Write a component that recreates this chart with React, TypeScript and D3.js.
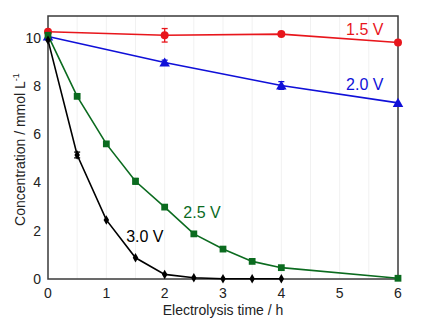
import React, { useEffect, useRef } from "react";
import * as d3 from "d3";

// electrolysis time (h) and concentration (mmol/L) for each cell voltage
const times15 = [0, 2, 4, 6];
const conc15 = [10.25, 10.1, 10.15, 9.8];
const err15 = [0, 0.28, 0.05, 0.05];

const times20 = [0, 2, 4, 6];
const conc20 = [10.05, 8.97, 8.02, 7.3];
const err20 = [0, 0.1, 0.16, 0.05];

const times25 = [0, 0.5, 1, 1.5, 2, 2.5, 3, 3.5, 4, 6];
const conc25 = [10.1, 7.57, 5.6, 4.05, 2.98, 1.87, 1.24, 0.73, 0.47, 0.03];
const err25 = [0, 0, 0.05, 0.12, 0.05, 0, 0, 0, 0, 0];

const times30 = [0, 0.5, 1, 1.5, 2, 2.5, 3, 3.5, 4];
const conc30 = [9.9, 5.14, 2.45, 0.88, 0.19, 0.05, 0.01, 0.01, 0.01];
const err30 = [0, 0.12, 0, 0, 0, 0, 0, 0, 0];

const xTicks = [0, 1, 2, 3, 4, 5, 6];
const yTicks = [0, 2, 4, 6, 8, 10];

type Series = {
  name: string;
  t: number[];
  c: number[];
  e: number[];
  color: string;
  marker: "circle" | "triangle" | "square" | "diamond";
  labelAt: [number, number];
};

const series: Series[] = [
  { name: "1.5 V", t: times15, c: conc15, e: err15, color: "#e8161c", marker: "circle", labelAt: [5.11, 10.1] },
  { name: "2.0 V", t: times20, c: conc20, e: err20, color: "#1010d8", marker: "triangle", labelAt: [5.11, 7.83] },
  { name: "2.5 V", t: times25, c: conc25, e: err25, color: "#0b6b1f", marker: "square", labelAt: [2.32, 2.53] },
  { name: "3.0 V", t: times30, c: conc30, e: err30, color: "#000000", marker: "diamond", labelAt: [1.34, 1.53] },
];

const W = 426;
const H = 327;
const margin = { top: 16, right: 28, bottom: 48, left: 48 };
const font = "Arial, 'Liberation Sans', sans-serif";

export default function App() {
  const ref = useRef<SVGSVGElement>(null);

  useEffect(() => {
    const svg = d3.select(ref.current);
    svg.selectAll("*").remove();

    const x = d3.scaleLinear().domain([0, 6]).range([margin.left, W - margin.right]);
    const y = d3.scaleLinear().domain([0, 10.9]).range([H - margin.bottom, margin.top]);

    svg.append("rect").attr("width", W).attr("height", H).attr("fill", "#fff");

    // faint vertical guides every half hour
    svg.append("g")
      .selectAll("line")
      .data(d3.range(0.5, 6, 0.5))
      .join("line")
      .attr("x1", (d) => x(d))
      .attr("x2", (d) => x(d))
      .attr("y1", y(10.9))
      .attr("y2", y(0))
      .attr("stroke", "#f1f1f1")
      .attr("stroke-width", 1);

    // tick labels
    svg.append("g")
      .selectAll("text")
      .data(xTicks)
      .join("text")
      .attr("x", (d) => x(d))
      .attr("y", y(0) + 19)
      .attr("text-anchor", "middle")
      .attr("font-family", font)
      .attr("font-size", 14)
      .attr("fill", "#222")
      .text((d) => d);

    svg.append("g")
      .selectAll("text")
      .data(yTicks)
      .join("text")
      .attr("x", margin.left - 7)
      .attr("y", (d) => y(d) + 5)
      .attr("text-anchor", "end")
      .attr("font-family", font)
      .attr("font-size", 14)
      .attr("fill", "#222")
      .text((d) => d);

    // axis titles
    svg.append("text")
      .attr("x", (x(0) + x(6)) / 2)
      .attr("y", H - 12)
      .attr("text-anchor", "middle")
      .attr("font-family", font)
      .attr("font-size", 14)
      .attr("fill", "#222")
      .text("Electrolysis time / h");

    const yt = svg.append("text")
      .attr("transform", `translate(${25},${(y(0) + y(10.9)) / 2 + 2}) rotate(-90)`)
      .attr("text-anchor", "middle")
      .attr("font-family", font)
      .attr("font-size", 14)
      .attr("fill", "#222");
    yt.append("tspan").text("Concentration / mmol L");
    yt.append("tspan").attr("font-size", 9).attr("dy", -6).text("-1");

    // frame, drawn under the data so end markers sit on top of it
    svg.append("rect")
      .attr("x", x(0))
      .attr("y", y(10.9))
      .attr("width", x(6) - x(0))
      .attr("height", y(0) - y(10.9))
      .attr("fill", "none")
      .attr("stroke", "#3a3a3a")
      .attr("stroke-width", 1.5);

    const line = d3.line<[number, number]>().x((d) => x(d[0])).y((d) => y(d[1]));

    series.forEach((s) => {
      const pts = s.t.map((t, i) => [t, s.c[i]] as [number, number]);
      const g = svg.append("g");
      g.append("path")
        .attr("d", line(pts))
        .attr("fill", "none")
        .attr("stroke", s.color)
        .attr("stroke-width", 1.6);

      // error bars
      s.t.forEach((t, i) => {
        if (s.e[i] <= 0.06) return;
        const cx = x(t);
        const y1 = y(s.c[i] + s.e[i]);
        const y2 = y(s.c[i] - s.e[i]);
        g.append("line").attr("x1", cx).attr("x2", cx).attr("y1", y1).attr("y2", y2).attr("stroke", s.color).attr("stroke-width", 1.3);
        [y1, y2].forEach((yy) =>
          g.append("line").attr("x1", cx - 3).attr("x2", cx + 3).attr("y1", yy).attr("y2", yy).attr("stroke", s.color).attr("stroke-width", 1.3)
        );
      });

      const symType =
        s.marker === "circle" ? d3.symbolCircle :
        s.marker === "triangle" ? d3.symbolTriangle :
        s.marker === "square" ? d3.symbolSquare : d3.symbolDiamond;
      const size = s.marker === "circle" ? 50 : s.marker === "triangle" ? 48 : s.marker === "square" ? 46 : 26;
      const sym = d3.symbol().type(symType).size(size);

      g.selectAll("path.m")
        .data(pts)
        .join("path")
        .attr("class", "m")
        .attr("d", sym)
        .attr("transform", (d) => `translate(${x(d[0])},${y(d[1]) + (s.marker === "triangle" ? 1 : 0)})`)
        .attr("fill", s.color);

      svg.append("text")
        .attr("x", x(s.labelAt[0]))
        .attr("y", y(s.labelAt[1]))
        .attr("font-family", font)
        .attr("font-size", 16)
        .attr("fill", s.color)
        .text(s.name);
    });
  }, []);

  return (
    <svg
      ref={ref}
      width={W}
      height={H}
      style={{ position: "absolute", left: 0, top: 0, display: "block" }}
    />
  );
}
